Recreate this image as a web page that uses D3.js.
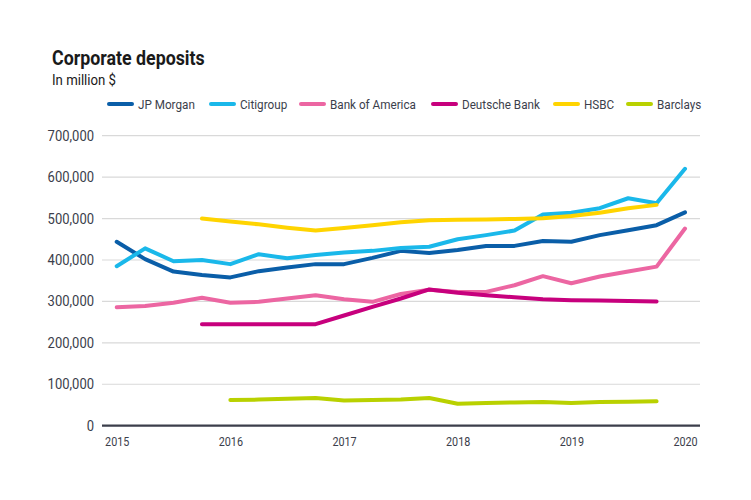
<!DOCTYPE html>
<html><head><meta charset="utf-8">
<script src="https://cdn.jsdelivr.net/npm/d3@7"></script>
<style>
body{margin:0;background:#fff;}
svg{display:block;font-family:Roboto, "Noto Sans", sans-serif;}
</style></head>
<body><svg id="c" width="751" height="500"></svg>
<script>
// quarterly data points, 2015 Q1 .. 2020 Q1
const quarters = d3.range(21).map(i => 2015 + i * 0.25);
const seriesNames = ["JP Morgan","Citigroup","Bank of America","Deutsche Bank","HSBC","Barclays"];
const jpMorgan = [444,402,372,364,358,373,382,390,390,405,422,417,424,434,434,446,444,460,472,484,515];
const citigroup = [385,428,397,400,390,414,404,412,418,422,429,432,450,460,471,510,514,525,549,537,620];
const bankOfAmerica = [286,289,297,309,297,299,307,315,305,299,318,328,323,323,339,361,344,360,372,384,476];
const deutscheBank = [null,null,null,245,245,245,245,245,266,287,307,329,321,315,310,305,303,302,301,300,null];
const hsbc = [null,null,null,500,493,486,478,471,477,484,491,496,497,498,499,501,506,514,525,533,null];
const barclays = [null,null,null,null,62,63,65,67,61,62,63,67,53,55,56,57,55,57,58,59,null];
const yTicks = [0,100000,200000,300000,400000,500000,600000,700000];
const xTicks = [2015,2016,2017,2018,2019,2020];
const colors = ["#0a5ea8","#1ab8ea","#ec66a2","#c7007d","#ffd400","#b9d100"];

const values = [jpMorgan,citigroup,bankOfAmerica,deutscheBank,hsbc,barclays];

const svg = d3.select("#c");
const x = d3.scaleLinear().domain([2015,2020]).range([116.7,685]);
const y = d3.scaleLinear().domain([0,700000]).range([425.7,135.7]);
const textColor = "#3b3e4b";

// title
svg.append("text").attr("transform","translate(52,65) scale(0.89,1)").attr("font-size",20).attr("font-weight",700)
  .attr("fill","#1a1a1a").text("Corporate deposits");
svg.append("text").attr("transform","translate(52,85) scale(0.88,1)").attr("font-size",15).attr("fill","#1a1a1a").text("In million $");

// grid
const grid = svg.append("g");
grid.selectAll("line").data(yTicks.filter(d=>d>0)).join("line")
  .attr("x1",102).attr("x2",700).attr("y1",d=>y(d)).attr("y2",d=>y(d))
  .attr("stroke","#d9d9d9").attr("stroke-width",1.2);

// y axis labels
const yAxis = d3.axisLeft(y).tickValues(yTicks).tickSize(0).tickPadding(0)
  .tickFormat(d3.format(","));
svg.append("g").attr("transform","translate(94,0)").call(yAxis)
  .call(g=>g.select(".domain").remove())
  .call(g=>g.selectAll("text").attr("font-size",14).attr("transform","scale(0.93,1)")
    .attr("fill",textColor).attr("font-family","Roboto, sans-serif"));

// x axis labels
const xAxis = d3.axisBottom(x).tickValues(xTicks).tickSize(0).tickPadding(0).tickFormat(d3.format("d"));
svg.append("g").attr("transform","translate(0,437)").call(xAxis)
  .call(g=>g.select(".domain").remove())
  .call(g=>g.selectAll("text").attr("font-size",13).attr("transform","scale(0.83,1)")
    .attr("fill",textColor).attr("font-family","Roboto, sans-serif"));

// lines
const line = d3.line().defined(d=>d[1]!=null).x(d=>x(d[0])).y(d=>y(d[1]*1000));
values.forEach((vals,k)=>{
  svg.append("path").datum(quarters.map((q,i)=>[q,vals[i]]))
    .attr("d",line).attr("fill","none").attr("stroke",colors[k])
    .attr("stroke-width",4).attr("stroke-linejoin","round").attr("stroke-linecap","round");
});

// zero line
svg.append("line").attr("x1",102).attr("x2",700).attr("y1",y(0)).attr("y2",y(0))
  .attr("stroke","#3b3e4b").attr("stroke-width",2.2);

// legend
const legendX = [108,210,300,432,554,627];
const lg = svg.append("g").attr("transform","translate(0,104)");
seriesNames.forEach((n,k)=>{
  lg.append("line").attr("x1",legendX[k]+1).attr("x2",legendX[k]+24).attr("y1",0).attr("y2",0)
    .attr("stroke",colors[k]).attr("stroke-width",4).attr("stroke-linecap","round");
  lg.append("text").attr("transform",`translate(${legendX[k]+30},4.8) scale(0.9,1)`).attr("font-size",13)
    .attr("fill",textColor).text(n);
});
</script>
</body></html>
